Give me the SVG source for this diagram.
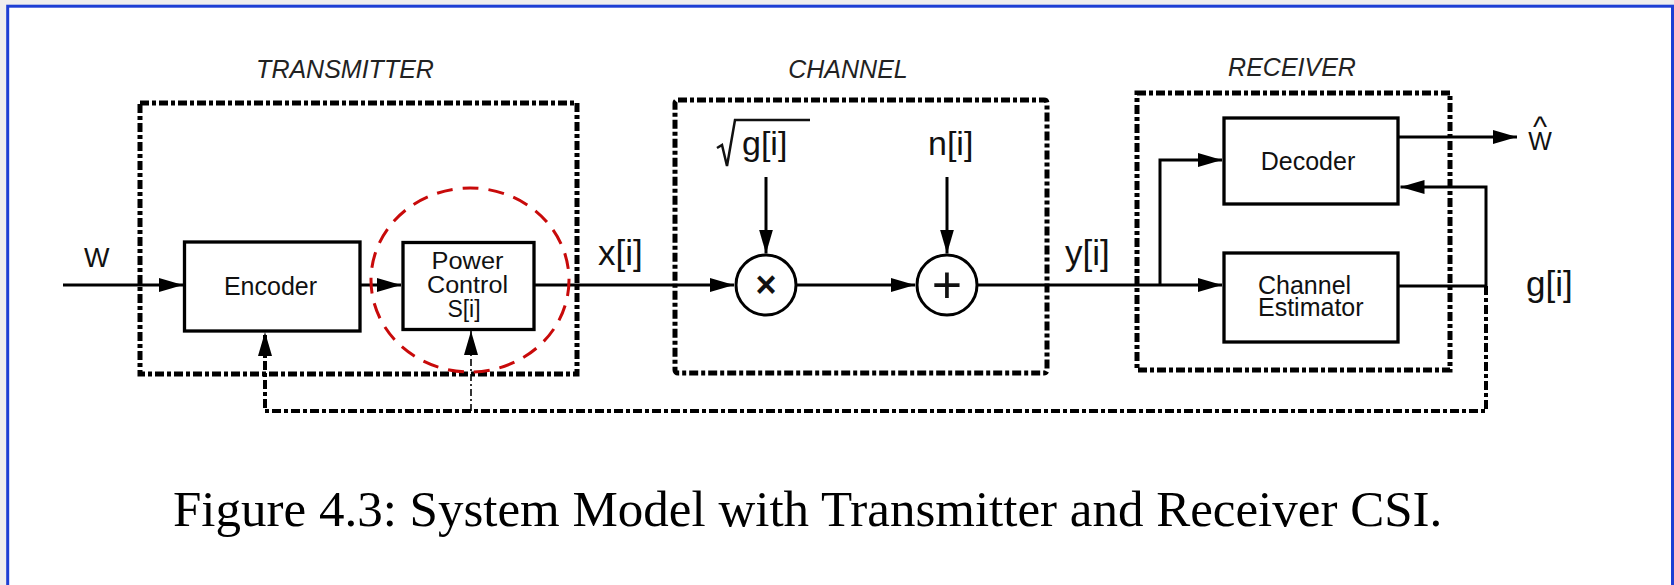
<svg xmlns="http://www.w3.org/2000/svg" width="1674" height="585" viewBox="0 0 1674 585">
<defs>
<marker id="arr" markerUnits="userSpaceOnUse" markerWidth="26" markerHeight="16" viewBox="0 -8 26 16" refX="24" refY="0" orient="auto">
<path d="M0,-7 L24,0 L0,7 Z" fill="#000"/>
</marker>
</defs>
<style>
.bg{fill:#eeeeee}
.frame{fill:#fff;stroke:#1d3fd4;stroke-width:3}
.grp{fill:none;stroke:#000;stroke-width:5;stroke-dasharray:9 3 4 3}
.block{fill:#fff;stroke:#000;stroke-width:3.3}
.op{fill:#fff;stroke:#000;stroke-width:3}
.wire{fill:none;stroke:#000;stroke-width:3}
.fb{fill:none;stroke:#000;stroke-width:4;stroke-dasharray:9 3 4 3}
.fbthin{fill:none;stroke:#000;stroke-width:1.6;stroke-dasharray:7 3 2 3}
.hl{fill:none;stroke:#c80a0a;stroke-width:3;stroke-dasharray:16 10}
.t{font-family:"Liberation Sans",Arial,sans-serif;fill:#111}
.c{text-anchor:middle}
.title{font-family:"Liberation Sans",Arial,sans-serif;font-style:italic;font-size:25px;fill:#222;text-anchor:middle}
.cap{font-family:"Liberation Serif","Times New Roman",serif;font-size:51px;fill:#000}
</style>

<rect class="bg" x="0" y="0" width="1674" height="585"/>
<rect class="frame" x="7.7" y="6.2" width="1664.8" height="600"/>

<g id="transmitter">
<rect class="grp" x="140" y="103" width="437" height="271"/>
<text class="title" x="345" y="78">TRANSMITTER</text>
</g>
<g id="channel">
<rect class="grp" x="675" y="100" width="372" height="273" rx="3"/>
<text class="title" x="848" y="78">CHANNEL</text>
</g>
<g id="receiver">
<rect class="grp" x="1137" y="93" width="313" height="277"/>
<text class="title" x="1292" y="76">RECEIVER</text>
</g>

<g id="connectors">
<path class="wire" d="M63,285 H183" marker-end="url(#arr)"/>
<path class="wire" d="M360,285 H401" marker-end="url(#arr)"/>
<path class="wire" d="M534,285 H734" marker-end="url(#arr)"/>
<path class="wire" d="M796,285 H915" marker-end="url(#arr)"/>
<path class="wire" d="M977,285 H1222" marker-end="url(#arr)"/>
<path class="wire" d="M1160,285 V160 H1222" marker-end="url(#arr)"/>
<path class="wire" d="M766,177 V253.5" marker-end="url(#arr)"/>
<path class="wire" d="M947,177 V253.5" marker-end="url(#arr)"/>
<path class="wire" d="M1398,137 H1517" marker-end="url(#arr)"/>
<path class="wire" d="M1398,286 H1486 V187 H1400.5" marker-end="url(#arr)"/>
<path class="fb" d="M1486,286 V411 H265 V332" marker-end="url(#arr)"/>
<path class="fbthin" d="M471,411 V331" marker-end="url(#arr)"/>
</g>

<g id="encoder">
<rect class="block" x="184.5" y="242" width="175.5" height="89"/>
<text class="t c" x="270.5" y="295" font-size="25">Encoder</text>
</g>
<g id="power-control">
<rect class="block" x="403" y="242.5" width="131" height="87"/>
<text class="t c" font-size="23"><tspan x="467.5" y="269" textLength="72" lengthAdjust="spacingAndGlyphs">Power</tspan><tspan x="467.5" y="293" textLength="81" lengthAdjust="spacingAndGlyphs">Control</tspan><tspan x="464" y="317">S[i]</tspan></text>
</g>
<g id="multiplier">
<circle class="op" cx="766" cy="285" r="30"/>
<text class="t c" x="766" y="297" font-size="36" font-weight="bold">×</text>
</g>
<g id="adder">
<circle class="op" cx="947" cy="285" r="30"/>
<text class="t c" x="947" y="303" font-size="52">+</text>
</g>
<g id="decoder">
<rect class="block" x="1224" y="118" width="174" height="86"/>
<text class="t c" x="1308" y="170" font-size="25">Decoder</text>
</g>
<g id="channel-estimator">
<rect class="block" x="1224" y="253" width="174" height="89"/>
<text class="t" font-size="25"><tspan x="1258" y="294">Channel</tspan><tspan x="1258" y="316">Estimator</tspan></text>
</g>

<g id="labels">
<text class="t" x="84" y="267" font-size="27">W</text>
<text class="t" x="598" y="265" font-size="35">x[i]</text>
<text class="t" x="1065" y="265" font-size="35">y[i]</text>
<text class="t" x="928" y="155" font-size="34">n[i]</text>
<path d="M717,148 L722,145 L727,166 L735,120 H810" fill="none" stroke="#111" stroke-width="2.5"/>
<text class="t" x="742" y="155" font-size="34">g[i]</text>
<text class="t" x="1526" y="296" font-size="35">g[i]</text>
<text class="t c"><tspan x="1540" y="137" font-size="30">^</tspan><tspan x="1540" y="150" font-size="25">W</tspan></text>
</g>

<g id="highlight">
<ellipse class="hl" cx="470" cy="280" rx="99" ry="92"/>
</g>

<g id="caption">
<text class="cap" x="173" y="526">Figure 4.3: System Model with Transmitter and Receiver CSI.</text>
</g>
</svg>
